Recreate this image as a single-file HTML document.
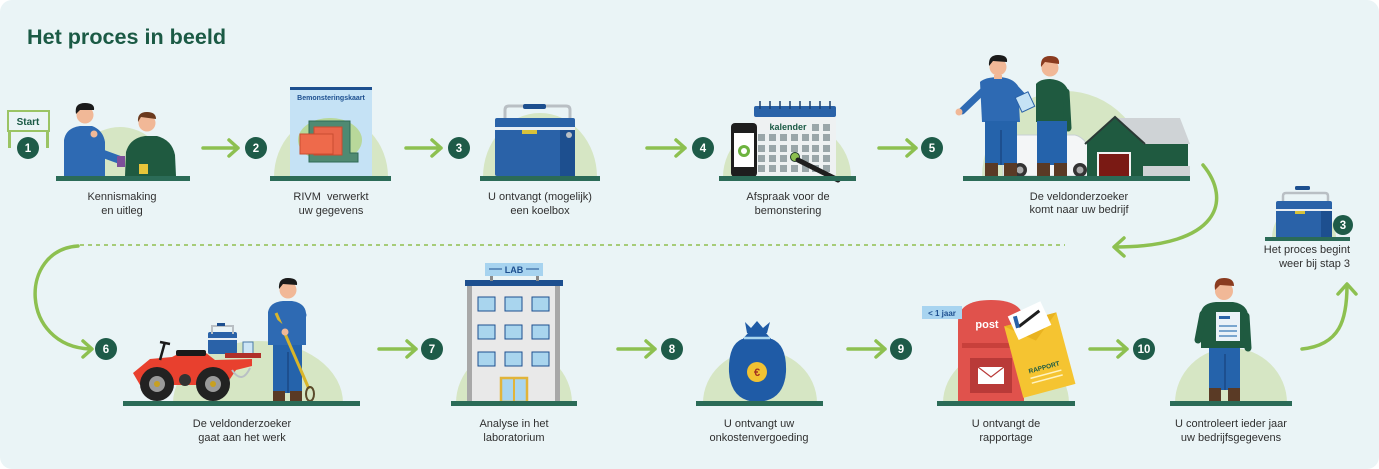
<!DOCTYPE html>
<html><head><meta charset="utf-8">
<style>
html,body{margin:0;padding:0;background:#fff;}
svg{display:block;}
text{font-family:"Liberation Sans",sans-serif;}
.lbl{font-size:11px;fill:#303030;text-anchor:middle;}
.bn{font-size:11.5px;font-weight:bold;fill:#fff;text-anchor:middle;}
</style></head>
<body>
<svg width="1379" height="469" viewBox="0 0 1379 469" xmlns="http://www.w3.org/2000/svg">
<rect x="0" y="0" width="1379" height="469" rx="12" fill="#eaf4f6"/>

<!-- Title -->
<text x="27" y="44" font-size="21" font-weight="bold" fill="#1b5a45" textLength="199" lengthAdjust="spacingAndGlyphs">Het proces in beeld</text>

<!-- semicircles (top halves only) -->
<g fill="#d6e6c4">
<path d="M72 177 A48 50 0 0 1 168 177 Z"/>
<path d="M274 177 A57 62 0 0 1 388 177 Z"/>
<path d="M483 177 A57 64 0 0 1 597 177 Z"/>
<path d="M723 177 A64 58 0 0 1 851 177 Z"/>
<path d="M982 177 A83 86 0 0 1 1148 177 Z"/>
<path d="M1272 238 A32 34 0 0 1 1336 238 Z"/>
<path d="M173 403 A85 62 0 0 1 343 403 Z"/>
<path d="M456 403 A58 56 0 0 1 572 403 Z"/>
<path d="M703 403 A57 53 0 0 1 817 403 Z"/>
<path d="M943 403 A63 55 0 0 1 1069 403 Z"/>
<path d="M1175 403 A56 55 0 0 1 1287 403 Z"/>
</g>

<!-- dashed line & curves -->
<line x1="80" y1="245" x2="1065" y2="245" stroke="#a6cc78" stroke-width="2" stroke-dasharray="4 4"/>
<g fill="none" stroke="#8dc050" stroke-width="3.5" stroke-linecap="round" stroke-linejoin="round">
<path d="M78 246 C 18 250, 20 346, 90 349"/>
<path d="M83 341 L92 349 L83 357"/>
<path d="M1203 165 C 1232 200, 1220 247, 1115 247"/>
<path d="M1124 238 L1114 247 L1124 256"/>
<path d="M1302 349 C 1340 345, 1347 320, 1347 285"/>
<path d="M1338 294 L1347 284 L1356 294"/>
<!-- straight arrows -->
<path d="M203 148 H238 M229 140 L238 148 L229 156"/>
<path d="M406 148 H441 M432 140 L441 148 L432 156"/>
<path d="M647 148 H685 M676 140 L685 148 L676 156"/>
<path d="M879 148 H916 M907 140 L916 148 L907 156"/>
<path d="M379 349 H416 M407 341 L416 349 L407 357"/>
<path d="M618 349 H655 M646 341 L655 349 L646 357"/>
<path d="M848 349 H885 M876 341 L885 349 L876 357"/>
<path d="M1090 349 H1127 M1118 341 L1127 349 L1118 357"/>
</g>

<!-- Start sign -->
<g>
<rect x="8" y="112" width="3" height="36" fill="#9bc464"/>
<rect x="46" y="112" width="3" height="36" fill="#9bc464"/>
<rect x="8" y="111" width="41" height="20" fill="#eaf4f6" stroke="#9bc464" stroke-width="2"/>
<text x="28" y="125" font-size="10" font-weight="bold" fill="#1b5a45" text-anchor="middle">Start</text>
</g>

<!-- badges -->
<g fill="#1e5b48">
<circle cx="28" cy="148" r="11"/><circle cx="256" cy="148" r="11"/><circle cx="459" cy="148" r="11"/>
<circle cx="703" cy="148" r="11"/><circle cx="932" cy="148" r="11"/>
<circle cx="106" cy="349" r="11"/><circle cx="432" cy="349" r="11"/><circle cx="672" cy="349" r="11"/>
<circle cx="901" cy="349" r="11"/><circle cx="1144" cy="349" r="11"/>
</g>
<text class="bn" x="28" y="152">1</text><text class="bn" x="256" y="152">2</text><text class="bn" x="459" y="152">3</text>
<text class="bn" x="703" y="152">4</text><text class="bn" x="932" y="152">5</text>
<text class="bn" x="106" y="353">6</text><text class="bn" x="432" y="353">7</text><text class="bn" x="672" y="353">8</text>
<text class="bn" x="901" y="353">9</text><text class="bn" x="1144" y="353" font-size="10.5">10</text>

<!-- STEP 1 -->
<g>
<path d="M64 176 L64 140 Q66 128 80 126 L92 126 Q103 130 105 142 L105 176 Z" fill="#2e6ab3"/>
<path d="M98 152 L120 160" stroke="#2e6ab3" stroke-width="8" stroke-linecap="round"/>
<circle cx="94" cy="134" r="3.5" fill="#f1b897"/>
<circle cx="85" cy="115" r="8.5" fill="#f1b897"/>
<path d="M76 114 Q74 103 85 103 Q95 103 94 110 L80 110 Z" fill="#1a1a1a"/>
<rect x="117" y="156" width="8" height="11" fill="#7d4f9a"/>
<path d="M125 176 L126 152 Q130 138 145 136 L157 136 Q172 140 175 155 L176 176 Z" fill="#1f5a40"/>
<circle cx="147" cy="123" r="8.5" fill="#f1b897"/>
<path d="M138 122 Q137 112 147 112 Q156 112 156 119 L141 117 Z" fill="#6b3a1e"/>
<rect x="139" y="164" width="9" height="10" fill="#e8c53a"/>
<rect x="56" y="176" width="134" height="5" fill="#2b6b57"/>
<text class="lbl" x="122" y="200">Kennismaking</text>
<text class="lbl" x="122" y="214">en uitleg</text>
</g>

<!-- STEP 2 -->
<g>
<rect x="290" y="87" width="82" height="89" fill="#c5e2f5"/>
<rect x="290" y="87" width="82" height="3" fill="#1d4f8f"/>
<text x="331" y="100" font-size="7" font-weight="bold" fill="#1d4f8f" text-anchor="middle">Bemonsteringskaart</text>
<ellipse cx="330" cy="140" rx="32" ry="22" fill="#b8d89a"/>
<path d="M309 121 L350 121 L350 153 L358 153 L358 162 L309 162 Z" fill="#4f8a72" stroke="#2f6a55" stroke-width="1"/>
<path d="M314 127 L342 127 L342 155 L314 155 Z" fill="#e9664a" stroke="#c94c30"/>
<rect x="300" y="134" width="33" height="20" fill="#ee6a4b" stroke="#c94c30"/>
<rect x="270" y="176" width="121" height="5" fill="#2b6b57"/>
<text class="lbl" x="331" y="200">RIVM&#160; verwerkt</text>
<text class="lbl" x="331" y="214">uw gegevens</text>
</g>

<!-- STEP 3 -->
<g>
<path d="M505 130 V110 Q505 106 509 106 H566 Q570 106 570 110 V135" fill="none" stroke="#b9bfc4" stroke-width="3"/>
<rect x="523" y="104" width="23" height="5" rx="2" fill="#1d4f8f"/>
<rect x="495" y="124" width="80" height="52" rx="2" fill="#2a62a8"/>
<rect x="560" y="124" width="15" height="52" fill="#1d4f8f"/>
<rect x="495" y="118" width="80" height="10" rx="2" fill="#2a62a8"/>
<rect x="495" y="127" width="80" height="3" fill="#e8eef4"/>
<rect x="522" y="130" width="15" height="4" fill="#d7c13a"/>
<circle cx="569" cy="135" r="3" fill="#b9bfc4"/>
<rect x="480" y="176" width="120" height="5" fill="#2b6b57"/>
<text class="lbl" x="540" y="200">U ontvangt (mogelijk)</text>
<text class="lbl" x="540" y="214">een koelbox</text>
</g>

<!-- STEP 4 -->
<g>
<rect x="754" y="106" width="82" height="70" rx="2" fill="#eef1f2"/>
<rect x="754" y="106" width="82" height="11" rx="2" fill="#2a62a8"/>
<g stroke="#1d3f6f" stroke-width="1.5">
<line x1="760" y1="101" x2="760" y2="109"/><line x1="770" y1="101" x2="770" y2="109"/><line x1="780" y1="101" x2="780" y2="109"/>
<line x1="790" y1="101" x2="790" y2="109"/><line x1="800" y1="101" x2="800" y2="109"/><line x1="810" y1="101" x2="810" y2="109"/>
<line x1="820" y1="101" x2="820" y2="109"/><line x1="830" y1="101" x2="830" y2="109"/>
</g>
<text x="788" y="130" font-size="9" font-weight="bold" fill="#1b5a45" text-anchor="middle">kalender</text>
<g fill="#9aa6a9">
<rect x="812" y="124" width="7" height="7"/><rect x="823" y="124" width="7" height="7"/>
<rect x="758" y="134" width="7" height="7"/><rect x="769" y="134" width="7" height="7"/><rect x="780" y="134" width="7" height="7"/><rect x="791" y="134" width="7" height="7"/><rect x="802" y="134" width="7" height="7"/><rect x="812" y="134" width="7" height="7"/><rect x="823" y="134" width="7" height="7"/>
<rect x="758" y="145" width="7" height="7"/><rect x="769" y="145" width="7" height="7"/><rect x="780" y="145" width="7" height="7"/><rect x="791" y="145" width="7" height="7"/><rect x="802" y="145" width="7" height="7"/><rect x="812" y="145" width="7" height="7"/><rect x="823" y="145" width="7" height="7"/>
<rect x="758" y="155" width="7" height="7"/><rect x="769" y="155" width="7" height="7"/><rect x="780" y="155" width="7" height="7"/><rect x="802" y="155" width="7" height="7"/><rect x="812" y="155" width="7" height="7"/><rect x="823" y="155" width="7" height="7"/>
<rect x="758" y="165" width="7" height="7"/><rect x="769" y="165" width="7" height="7"/><rect x="780" y="165" width="7" height="7"/><rect x="791" y="165" width="7" height="7"/><rect x="802" y="165" width="7" height="7"/><rect x="812" y="165" width="7" height="7"/><rect x="823" y="165" width="7" height="7"/>
</g>
<circle cx="795" cy="157" r="4.5" fill="#8dc050" stroke="#1e3a2a"/>
<path d="M798 160 L838 180" stroke="#1e1e1e" stroke-width="5" stroke-linecap="round"/>
<rect x="731" y="123" width="26" height="54" rx="4" fill="#1e1e1e"/>
<rect x="734" y="133" width="20" height="34" fill="#ffffff"/>
<circle cx="744" cy="151" r="6" fill="#6db33f"/>
<circle cx="744" cy="151" r="3" fill="#ffffff"/>
<rect x="719" y="176" width="137" height="5" fill="#2b6b57"/>
<text class="lbl" x="788" y="200">Afspraak voor de</text>
<text class="lbl" x="788" y="214">bemonstering</text>
</g>

<!-- STEP 5 -->
<g>
<path d="M1003 176 L1003 140 Q1003 135 1010 135 L1075 135 Q1088 138 1093 160 L1093 176 Z" fill="#f4f6f7" stroke="#c8d0d4"/>
<circle cx="1020" cy="170" r="7" fill="#333"/><circle cx="1020" cy="170" r="3.5" fill="#aaa"/>
<circle cx="1080" cy="170" r="7" fill="#333"/><circle cx="1080" cy="170" r="3.5" fill="#aaa"/>
<!-- person blue -->
<path d="M980 82 Q985 77 1000 77 Q1013 78 1018 86 L1020 122 L982 122 Z" fill="#2e6ab3"/>
<path d="M984 90 L962 111" stroke="#2e6ab3" stroke-width="7" stroke-linecap="round"/>
<circle cx="959" cy="112" r="3.5" fill="#f1b897"/>
<path d="M1015 88 L1028 102" stroke="#2e6ab3" stroke-width="7" stroke-linecap="round"/>
<rect x="985" y="121" width="32" height="44" fill="#2563ab"/>
<rect x="1000" y="130" width="2" height="35" fill="#1d4f8f"/>
<rect x="985" y="163" width="13" height="13" fill="#5a3a25"/><rect x="1004" y="163" width="13" height="13" fill="#5a3a25"/>
<circle cx="998" cy="67" r="8.5" fill="#f1b897"/>
<path d="M989 66 Q988 55 998 55 Q1008 55 1007 62 L993 61 Z" fill="#1a1a1a"/>
<rect x="994" y="75" width="8" height="4" fill="#f1b897"/>
<!-- clipboard -->
<rect x="1018" y="94" width="14" height="16" fill="#c5e2f5" stroke="#2a62a8" transform="rotate(-25 1025 102)"/>
<!-- person green -->
<path d="M1036 84 Q1040 79 1050 79 Q1064 80 1068 90 L1070 122 L1036 122 Z" fill="#1f5a40"/>
<path d="M1066 92 L1068 128" stroke="#1f5a40" stroke-width="7" stroke-linecap="round"/>
<rect x="1037" y="121" width="30" height="44" fill="#2563ab"/>
<rect x="1037" y="163" width="13" height="13" fill="#5a3a25"/><rect x="1054" y="163" width="13" height="13" fill="#5a3a25"/>
<circle cx="1050" cy="68" r="8.5" fill="#f1b897"/>
<path d="M1041 67 Q1040 56 1050 56 Q1060 56 1059 64 L1045 62 Z" fill="#8a3b1f"/>
<!-- house -->
<path d="M1110 118 L1180 118 L1190 144 L1143 144 Z" fill="#cfd3d6"/>
<rect x="1142" y="144" width="46" height="24" fill="#1f5a40"/>
<rect x="1142" y="166" width="48" height="10" fill="#cfd3d6"/>
<path d="M1087 143 L1115 118 L1143 143 L1143 176 L1087 176 Z" fill="#1f5a40"/>
<path d="M1085 144 L1115 117 L1145 144" fill="none" stroke="#2b3a36" stroke-width="2"/>
<rect x="1097" y="152" width="34" height="24" fill="#f2f2f2"/>
<rect x="1099" y="154" width="30" height="22" fill="#7a1a14"/>
<rect x="963" y="176" width="227" height="5" fill="#2b6b57"/>
<text class="lbl" x="1079" y="200">De veldonderzoeker</text>
<text class="lbl" x="1079" y="213">komt naar uw bedrijf</text>
</g>

<!-- small repeat step 3 -->
<g>
<path d="M1283 210 V196 Q1283 193 1286 193 H1325 Q1328 193 1328 196 V212" fill="none" stroke="#b9bfc4" stroke-width="2.5"/>
<rect x="1295" y="186" width="15" height="4" rx="1.5" fill="#1d4f8f"/>
<rect x="1276" y="204" width="56" height="33" fill="#2a62a8"/>
<rect x="1321" y="204" width="11" height="33" fill="#1d4f8f"/>
<rect x="1276" y="201" width="56" height="8" rx="2" fill="#2a62a8"/>
<rect x="1276" y="209" width="56" height="2" fill="#e8eef4"/>
<rect x="1295" y="211" width="10" height="3" fill="#d7c13a"/>
<rect x="1265" y="237" width="85" height="4" fill="#2b6b57"/>
<circle cx="1343" cy="225" r="10" fill="#1e5b48"/>
<text class="bn" x="1343" y="229">3</text>
<text x="1350" y="253" font-size="11" fill="#303030" text-anchor="end">Het proces begint</text>
<text x="1350" y="267" font-size="11" fill="#303030" text-anchor="end">weer bij stap 3</text>
</g>

<!-- STEP 6 -->
<g>
<rect x="208" y="332" width="29" height="22" rx="2" fill="#2a62a8"/>
<path d="M212 334 V326 H233 V334" fill="none" stroke="#b9bfc4" stroke-width="2"/>
<rect x="217" y="323" width="8" height="3" fill="#1d4f8f"/>
<rect x="208" y="338" width="29" height="2" fill="#e8eef4"/>
<rect x="243" y="342" width="10" height="12" fill="#cde6f6" stroke="#4a7aa8"/>
<rect x="225" y="353" width="36" height="5" fill="#b0302a"/>
<path d="M133 373 L150 359 L172 357 L182 352 L206 353 L215 360 L252 359 L252 366 L236 370 L226 385 L140 385 Z" fill="#e8402e"/>
<rect x="176" y="350" width="30" height="6" rx="2" fill="#1a1a1a"/>
<path d="M160 360 L165 342 M160 342 L170 344" stroke="#1a1a1a" stroke-width="2.5"/>
<path d="M232 370 Q242 385 250 368" fill="none" stroke="#b9bfc4" stroke-width="2"/>
<circle cx="157" cy="384" r="17" fill="#222"/><circle cx="157" cy="384" r="8" fill="#9a9a9a"/><circle cx="157" cy="384" r="3" fill="#c8a020"/>
<circle cx="213" cy="384" r="17" fill="#222"/><circle cx="213" cy="384" r="8" fill="#9a9a9a"/><circle cx="213" cy="384" r="3" fill="#c8a020"/>
<circle cx="185" cy="380" r="6" fill="#333"/>
<!-- person -->
<rect x="273" y="344" width="29" height="49" fill="#2563ab"/>
<rect x="287" y="352" width="2" height="41" fill="#1d4f8f"/>
<path d="M268 345 L268 312 Q270 302 283 301 L292 301 Q305 303 306 313 L306 345 Z" fill="#2e6ab3"/>
<rect x="273" y="391" width="12" height="11" fill="#5a3a25"/><rect x="290" y="391" width="12" height="11" fill="#5a3a25"/>
<path d="M276 313 L309 389" stroke="#d9b52a" stroke-width="3"/>
<ellipse cx="310" cy="394" rx="4" ry="7" fill="none" stroke="#5a4a2a" stroke-width="2"/>
<path d="M272 320 L284 330 M303 315 L296 332" stroke="#2e6ab3" stroke-width="7" stroke-linecap="round"/>
<circle cx="285" cy="332" r="3.5" fill="#f1b897"/>
<circle cx="288" cy="290" r="8.5" fill="#f1b897"/>
<path d="M279 289 Q278 278 288 278 Q298 278 297 285 L283 284 Z" fill="#1a1a1a"/>
<rect x="123" y="401" width="237" height="5" fill="#2b6b57"/>
<text class="lbl" x="242" y="427">De veldonderzoeker</text>
<text class="lbl" x="242" y="441">gaat aan het werk</text>
</g>

<!-- STEP 7 -->
<g>
<rect x="467" y="285" width="93" height="117" fill="#e9e9e9"/>
<rect x="467" y="285" width="5" height="117" fill="#a8a8a8"/>
<rect x="555" y="285" width="5" height="117" fill="#a8a8a8"/>
<rect x="465" y="280" width="98" height="6" fill="#1d4f8f"/>
<rect x="490" y="275" width="3" height="6" fill="#8a8a8a"/><rect x="536" y="275" width="3" height="6" fill="#8a8a8a"/>
<rect x="485" y="263" width="58" height="13" fill="#a7d3ef"/>
<text x="514" y="273" font-size="9" font-weight="bold" fill="#1d4f8f" text-anchor="middle">LAB</text>
<line x1="489" y1="269" x2="502" y2="269" stroke="#1d4f8f"/><line x1="526" y1="269" x2="539" y2="269" stroke="#1d4f8f"/>
<g fill="#a9d5ee" stroke="#1d4f8f" stroke-width="1">
<rect x="478" y="297" width="17" height="14"/><rect x="505" y="297" width="17" height="14"/><rect x="532" y="297" width="17" height="14"/>
<rect x="478" y="325" width="17" height="14"/><rect x="505" y="325" width="17" height="14"/><rect x="532" y="325" width="17" height="14"/>
<rect x="478" y="352" width="17" height="14"/><rect x="505" y="352" width="17" height="14"/><rect x="532" y="352" width="17" height="14"/>
</g>
<rect x="501" y="378" width="26" height="24" fill="#a9d5ee" stroke="#e1b43a" stroke-width="2.5"/>
<line x1="514" y1="378" x2="514" y2="402" stroke="#e1b43a" stroke-width="2"/>
<rect x="451" y="401" width="126" height="5" fill="#2b6b57"/>
<text class="lbl" x="514" y="427">Analyse in het</text>
<text class="lbl" x="514" y="441">laboratorium</text>
</g>

<!-- STEP 8 -->
<g>
<path d="M745 322 L751 328 L757 321 L763 328 L770 322 L767 333 L747 333 Z" fill="#1f5ba6"/>
<path d="M748 333 L766 333 L772 340 L742 340 Z" fill="#1f5ba6"/>
<path d="M742 339 Q728 345 729 372 Q731 401 757 402 Q784 401 786 372 Q787 345 772 339 Z" fill="#1f5ba6"/>
<line x1="744" y1="338" x2="770" y2="338" stroke="#a9d5ee" stroke-width="2.5"/>
<circle cx="757" cy="372" r="10" fill="#f1c232"/>
<text x="757" y="376" font-size="11" font-weight="bold" fill="#a33222" text-anchor="middle">€</text>
<rect x="696" y="401" width="127" height="5" fill="#2b6b57"/>
<text class="lbl" x="759" y="427">U ontvangt uw</text>
<text class="lbl" x="759" y="441">onkostenvergoeding</text>
</g>

<!-- STEP 9 -->
<g>
<path d="M958 402 L958 322 Q958 300 991 300 Q1024 300 1024 322 L1024 402 Z" fill="#e0524c"/>
<rect x="962" y="343" width="58" height="5" fill="#c8403b"/>
<rect x="970" y="358" width="42" height="35" fill="#b93a38"/>
<rect x="978" y="367" width="26" height="17" fill="#ffffff"/>
<path d="M978 367 L991 377 L1004 367" fill="none" stroke="#b93a38" stroke-width="1.2"/>
<text x="987" y="328" font-size="11" font-weight="bold" fill="#ffffff" text-anchor="middle">post</text>
<g transform="rotate(-15 1040 352)">
<rect x="1012" y="318" width="54" height="74" fill="#f5c431"/>
<path d="M1012 318 L1039 340 L1066 318" fill="#e9b320"/>
<rect x="1020" y="306" width="36" height="26" fill="#ffffff" transform="rotate(-10 1038 319)"/>
<path d="M1026 322 L1050 312" stroke="#1e1e1e" stroke-width="3"/>
<rect x="1023" y="311" width="4" height="12" fill="#2a62a8"/>
<text x="1040" y="370" font-size="6.5" font-weight="bold" fill="#1b5a45" text-anchor="middle">RAPPORT</text>
<line x1="1024" y1="375" x2="1056" y2="375" stroke="#fff3c0" stroke-width="1.5"/>
<line x1="1024" y1="380" x2="1056" y2="380" stroke="#fff3c0" stroke-width="1.5"/>
</g>
<rect x="922" y="306" width="40" height="13" fill="#a8d4f0"/>
<text x="942" y="316" font-size="8" font-weight="bold" fill="#1d4f8f" text-anchor="middle">&lt; 1 jaar</text>
<rect x="937" y="401" width="138" height="5" fill="#2b6b57"/>
<text class="lbl" x="1006" y="427">U ontvangt de</text>
<text class="lbl" x="1006" y="441">rapportage</text>
</g>

<!-- STEP 10 -->
<g>
<rect x="1209" y="346" width="31" height="44" fill="#2563ab"/>
<rect x="1224" y="354" width="2" height="36" fill="#1d4f8f"/>
<path d="M1201 348 L1201 312 Q1203 303 1216 302 L1233 302 Q1246 304 1248 314 L1248 348 Z" fill="#1f5a40"/>
<path d="M1203 314 L1198 340 M1246 316 L1248 348" stroke="#1f5a40" stroke-width="7" stroke-linecap="round"/>
<rect x="1216" y="312" width="24" height="29" fill="#eaf2f8"/>
<rect x="1219" y="316" width="11" height="3" fill="#2a62a8"/>
<rect x="1219" y="325" width="18" height="2" fill="#7aa6cf"/><rect x="1219" y="330" width="18" height="2" fill="#7aa6cf"/><rect x="1219" y="335" width="18" height="2" fill="#7aa6cf"/>
<rect x="1209" y="388" width="12" height="14" fill="#5a3a25"/><rect x="1228" y="388" width="12" height="14" fill="#5a3a25"/>
<circle cx="1224" cy="291" r="9" fill="#f1b897"/>
<path d="M1215 290 Q1213 278 1224 278 Q1234 278 1234 286 L1220 285 Z" fill="#8a3b1f"/>
<rect x="1170" y="401" width="122" height="5" fill="#2b6b57"/>
<text class="lbl" x="1231" y="427">U controleert ieder jaar</text>
<text class="lbl" x="1231" y="441">uw bedrijfsgegevens</text>
</g>
</svg>
</body></html>
